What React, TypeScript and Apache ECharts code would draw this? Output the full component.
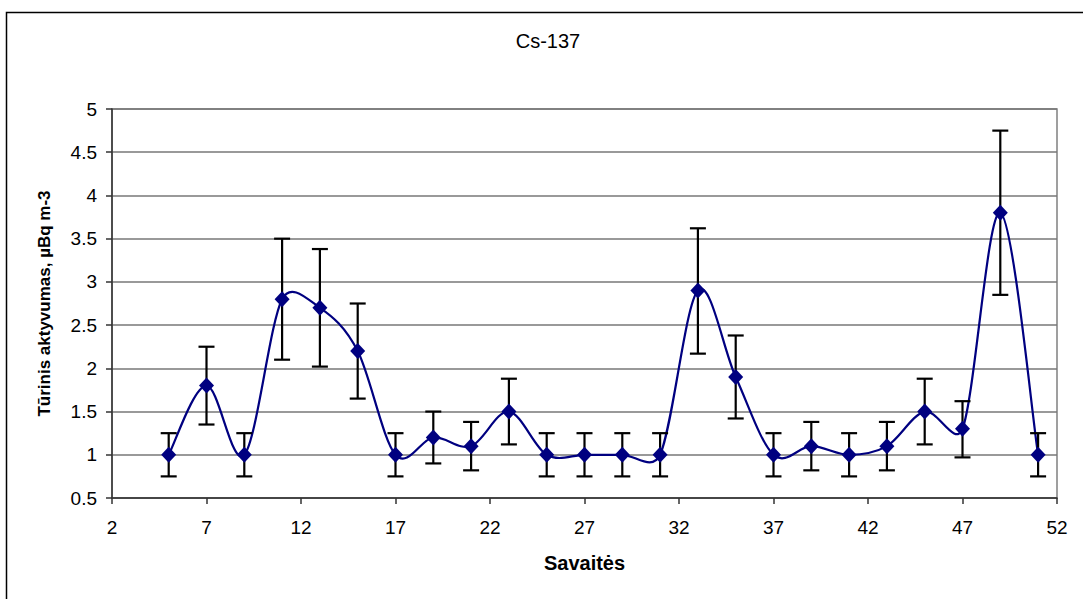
import React, { useEffect, useRef } from "react";
import * as echarts from "echarts";

const weeks = [5, 7, 9, 11, 13, 15, 17, 19, 21, 23, 25, 27, 29, 31, 33, 35, 37, 39, 41, 43, 45, 47, 49, 51];
const values = [1, 1.8, 1, 2.8, 2.7, 2.2, 1, 1.2, 1.1, 1.5, 1, 1, 1, 1, 2.9, 1.9, 1, 1.1, 1, 1.1, 1.5, 1.3, 3.8, 1];
const errLow = [0.75, 1.35, 0.75, 2.1, 2.02, 1.65, 0.75, 0.9, 0.82, 1.12, 0.75, 0.75, 0.75, 0.75, 2.17, 1.42, 0.75, 0.82, 0.75, 0.82, 1.12, 0.97, 2.85, 0.75];
const errHigh = [1.25, 2.25, 1.25, 3.5, 3.38, 2.75, 1.25, 1.5, 1.38, 1.88, 1.25, 1.25, 1.25, 1.25, 3.62, 2.38, 1.25, 1.38, 1.25, 1.38, 1.88, 1.62, 4.75, 1.25];
const xTicks = [2, 7, 12, 17, 22, 27, 32, 37, 42, 47, 52];

const title = "Cs-137";
const xName = "Savaitės";
const yName = "Tūrinis aktyvumas, µBq m-3";

const FONT = "'Liberation Sans', Arial, sans-serif";

function dist(a: number[], b: number[]) {
  return Math.hypot(a[0] - b[0], a[1] - b[1]);
}

export default function App() {
  const ref = useRef<HTMLDivElement>(null);
  useEffect(() => {
    if (!ref.current) return;
    const chart = echarts.init(ref.current, null, { renderer: "svg" });
    const points = weeks.map((w, i) => [w, values[i]]);
    const errData = weeks.map((w, i) => [w, errLow[i], errHigh[i]]);
    const n = weeks.length;
    chart.setOption({
      animation: false,
      textStyle: { fontFamily: FONT },
      graphic: [
        {
          type: "rect",
          shape: { x: 6.5, y: 12.5, width: 1200, height: 800 },
          style: { fill: "none", stroke: "#000", lineWidth: 1.5 },
          silent: true,
          z: -1,
        },
        {
          type: "text",
          x: 548,
          y: 41,
          style: { text: title, font: `20px ${FONT}`, fill: "#000", textAlign: "center", textVerticalAlign: "middle" },
        },
      ],
      grid: { left: 112, top: 109, width: 945, height: 389, show: true, borderColor: "#808080", borderWidth: 1.5, backgroundColor: "transparent" },
      xAxis: {
        type: "value",
        min: 2,
        max: 52,
        name: xName,
        nameLocation: "middle",
        nameGap: 55,
        nameTextStyle: { fontSize: 20, fontWeight: "bold", color: "#000", fontFamily: FONT },
        axisLine: { show: true, lineStyle: { color: "#333", width: 1.5 } },
        axisTick: { show: true, length: 6, customValues: xTicks, lineStyle: { color: "#333", width: 1.5 } },
        axisLabel: { customValues: xTicks, fontSize: 19, color: "#000", margin: 20, fontFamily: FONT },
        splitLine: { show: false },
      },
      yAxis: {
        type: "value",
        min: 0.5,
        max: 5,
        interval: 0.5,
        name: yName,
        nameLocation: "middle",
        nameGap: 59,
        nameTextStyle: { fontSize: 17, fontWeight: "bold", color: "#000", fontFamily: FONT },
        axisLine: { show: true, lineStyle: { color: "#333", width: 1.5 } },
        axisTick: { show: true, length: 6, lineStyle: { color: "#333", width: 1.5 } },
        axisLabel: { fontSize: 19, color: "#000", margin: 15, fontFamily: FONT },
        splitLine: { show: true, lineStyle: { color: "#777", width: 1.5 } },
      },
      series: [
        {
          type: "custom",
          data: points,
          z: 2,
          renderItem: (params: any, api: any) => {
            const i = params.dataIndex;
            if (i >= n - 1) return { type: "group", children: [] };
            const c = (k: number) => api.coord([weeks[k], values[k]]);
            const p1 = c(i);
            const p2 = c(i + 1);
            const p0 = i > 0 ? c(i - 1) : p1;
            const p3 = i + 2 < n ? c(i + 2) : p2;
            const d12 = dist(p1, p2);
            const d02 = dist(p0, p2);
            const d13 = dist(p1, p3);
            let f1 = 1 / 6;
            let f2 = 1 / 6;
            if (d02 / 6 >= d12 / 2 && d02 > 0) f1 = d12 / 2 / d02;
            if (d13 / 6 >= d12 / 2 && d13 > 0) f2 = d12 / 2 / d13;
            return {
              type: "bezierCurve",
              shape: {
                x1: p1[0],
                y1: p1[1],
                cpx1: p1[0] + (p2[0] - p0[0]) * f1,
                cpy1: p1[1] + (p2[1] - p0[1]) * f1,
                cpx2: p2[0] - (p3[0] - p1[0]) * f2,
                cpy2: p2[1] - (p3[1] - p1[1]) * f2,
                x2: p2[0],
                y2: p2[1],
              },
              style: { stroke: "#000080", lineWidth: 2.2, fill: null, lineCap: "round" },
            };
          },
        },
        {
          type: "custom",
          data: errData,
          z: 3,
          renderItem: (params: any, api: any) => {
            const x = api.value(0);
            const lo = api.coord([x, api.value(1)]);
            const hi = api.coord([x, api.value(2)]);
            const half = 8;
            const style = { stroke: "#000", lineWidth: 2.2 };
            return {
              type: "group",
              children: [
                { type: "line", shape: { x1: lo[0], y1: lo[1], x2: hi[0], y2: hi[1] }, style },
                { type: "line", shape: { x1: lo[0] - half, y1: lo[1], x2: lo[0] + half, y2: lo[1] }, style },
                { type: "line", shape: { x1: hi[0] - half, y1: hi[1], x2: hi[0] + half, y2: hi[1] }, style },
              ],
            };
          },
        },
        {
          type: "scatter",
          data: points,
          symbol: "diamond",
          symbolSize: [15, 16],
          itemStyle: { color: "#000080", opacity: 1 },
          z: 4,
        },
      ],
    });
    return () => chart.dispose();
  }, []);
  return <div ref={ref} style={{ position: "absolute", left: 0, top: 0, width: 1083, height: 599 }} />;
}
